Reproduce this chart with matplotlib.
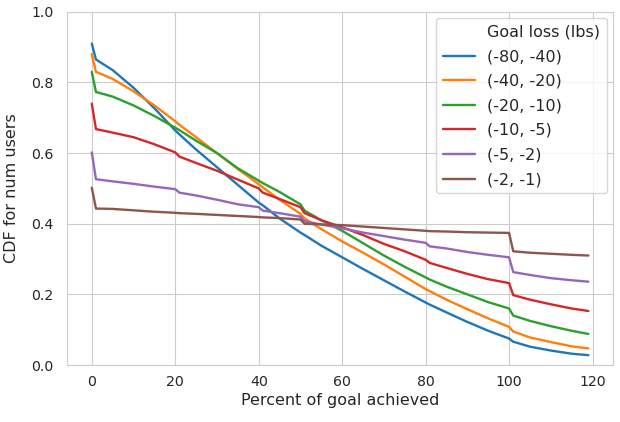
import matplotlib
matplotlib.use("Agg")
import matplotlib.pyplot as plt
from matplotlib.lines import Line2D
import seaborn as sns

sns.set_style("whitegrid")
plt.rcParams['font.family'] = ['DejaVu Sans']

x = [0, 1, 5, 10, 15, 20, 21, 25, 30, 35, 40, 41, 45, 50, 51, 55, 60, 65, 70, 75,
     80, 81, 85, 90, 95, 100, 101, 105, 110, 115, 119]

legend_title = "Goal loss (lbs)"
labels = ["(-80, -40)", "(-40, -20)", "(-20, -10)", "(-10, -5)", "(-5, -2)", "(-2, -1)"]

s_80_40 = [0.91, 0.865, 0.835, 0.785, 0.727, 0.664, 0.653, 0.61, 0.56, 0.51, 0.46, 0.452,
           0.415, 0.375, 0.368, 0.338, 0.305, 0.272, 0.24, 0.208, 0.177, 0.171, 0.149,
           0.122, 0.097, 0.075, 0.066, 0.052, 0.041, 0.032, 0.028]
s_40_20 = [0.88, 0.83, 0.81, 0.775, 0.735, 0.69, 0.68, 0.645, 0.6, 0.555, 0.512, 0.503,
           0.468, 0.428, 0.415, 0.385, 0.35, 0.318, 0.285, 0.25, 0.215, 0.209, 0.185,
           0.158, 0.132, 0.108, 0.095, 0.078, 0.065, 0.053, 0.047]
s_20_10 = [0.83, 0.773, 0.76, 0.735, 0.705, 0.672, 0.665, 0.635, 0.6, 0.557, 0.522, 0.515,
           0.49, 0.455, 0.437, 0.41, 0.38, 0.345, 0.31, 0.278, 0.248, 0.242, 0.222,
           0.2, 0.178, 0.16, 0.14, 0.125, 0.11, 0.097, 0.088]
s_10_5 = [0.74, 0.668, 0.658, 0.645, 0.625, 0.602, 0.59, 0.572, 0.55, 0.525, 0.5, 0.488,
          0.47, 0.447, 0.43, 0.41, 0.39, 0.368, 0.343, 0.322, 0.298, 0.289, 0.275,
          0.258, 0.243, 0.232, 0.198, 0.185, 0.172, 0.16, 0.153]
s_5_2 = [0.602, 0.526, 0.52, 0.513, 0.505, 0.498, 0.488, 0.48, 0.468, 0.455, 0.447, 0.437,
         0.43, 0.42, 0.407, 0.398, 0.387, 0.375, 0.365, 0.355, 0.346, 0.336, 0.33,
         0.32, 0.312, 0.305, 0.263, 0.255, 0.246, 0.24, 0.236]
s_2_1 = [0.502, 0.443, 0.442, 0.438, 0.434, 0.431, 0.43, 0.428, 0.425, 0.422, 0.419, 0.418,
         0.416, 0.412, 0.40, 0.398, 0.396, 0.392, 0.388, 0.384, 0.38, 0.379, 0.378,
         0.376, 0.375, 0.374, 0.322, 0.318, 0.315, 0.312, 0.31]

series = [s_80_40, s_40_20, s_20_10, s_10_5, s_5_2, s_2_1]
colors = ["#1f77b4", "#ff7f0e", "#2ca02c", "#d62728", "#9467bd", "#8c564b"]

fig = plt.figure(figsize=(6.2, 4.22), dpi=100)
ax = fig.add_axes([0.108, 0.135, 0.881, 0.837])
for s, lab, c in zip(series, labels, colors):
    ax.plot(x, s, label=lab, color=c, linewidth=1.7)

ax.set_ylim(0, 1.0)
ax.set_xticks([0, 20, 40, 60, 80, 100, 120])
ax.set_xlabel("Percent of goal achieved", fontsize=11.5, labelpad=3)
ax.set_ylabel("CDF for num users", fontsize=11.5, labelpad=9)
ax.tick_params(labelsize=10.2)
ax.tick_params(axis="y", pad=6)
for sp in ax.spines.values():
    sp.set_color("#cccccc")

handles, labs = ax.get_legend_handles_labels()
blank = Line2D([], [], color="none", linestyle="none")
leg = ax.legend([blank] + handles, [legend_title] + labs, loc="upper right",
                fontsize=11.5, labelspacing=0.6, borderaxespad=0.4)

fig.savefig("out.png", dpi=100)
